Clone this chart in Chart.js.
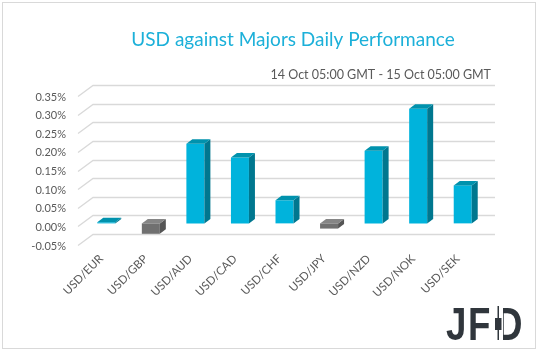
<!DOCTYPE html>
<html>
<head>
<meta charset="utf-8">
<script src="https://cdn.jsdelivr.net/npm/chart.js@4.4.0/dist/chart.umd.min.js"></script>
<style>
  body { margin: 0; background: #fff; }
  #wrap { width: 538px; height: 351px; }
</style>
</head>
<body>
<div id="wrap"><canvas id="perfChart" width="538" height="351"></canvas></div>
<script>
// data (percent)
const pairs = ['USD/EUR', 'USD/GBP', 'USD/AUD', 'USD/CAD', 'USD/CHF', 'USD/JPY', 'USD/NZD', 'USD/NOK', 'USD/SEK'];
const changes = [0.003, -0.028, 0.214, 0.177, 0.062, -0.014, 0.195, 0.308, 0.102];
const yTicks = [-0.05, 0, 0.05, 0.1, 0.15, 0.2, 0.25, 0.3, 0.35];

const titleText = 'USD against Majors Daily Performance';
const subText = '14 Oct 05:00 GMT - 15 Oct 05:00 GMT';

const upFront = '#00b3dc', upSide = '#00778f', upTop = '#0092ad';
const dnFront = '#707070', dnSide = '#555555', dnTop = '#858585';

const barColors = changes.map(v => (v >= 0 ? upFront : dnFront));

// back wall grid + 3d faces of the bars
const bar3d = {
  id: 'bar3d',
  beforeDatasetsDraw(chart) {
    const { ctx, chartArea: a, scales: { y } } = chart;
    ctx.save();
    ctx.strokeStyle = '#d9d9d9';
    ctx.lineWidth = 1.3;
    y.ticks.forEach(t => {
      const yb = Math.round(y.getPixelForValue(t.value) - 8) + 0.5;
      ctx.beginPath();
      ctx.moveTo(a.left - 6, yb + 11);
      ctx.lineTo(a.left + 9, yb);
      ctx.lineTo(a.right + 10, yb);
      ctx.stroke();
    });
    ctx.restore();
  },
  afterDatasetsDraw(chart) {
    const ctx = chart.ctx;
    const dx = 6, dy = 4.5;
    ctx.save();
    chart.getDatasetMeta(0).data.forEach((bar, i) => {
      const { x, y, base, width } = bar.getProps(['x', 'y', 'base', 'width'], true);
      const l = x - width / 2, r = x + width / 2;
      const top = Math.min(y, base), bot = Math.max(y, base);
      const neg = changes[i] < 0;
      // side
      ctx.fillStyle = neg ? dnSide : upSide;
      ctx.beginPath();
      ctx.moveTo(r, top);
      ctx.lineTo(r + dx, top - dy);
      ctx.lineTo(r + dx, bot - dy);
      ctx.lineTo(r, bot);
      ctx.closePath();
      ctx.fill();
      // top
      ctx.fillStyle = neg ? dnTop : upTop;
      ctx.beginPath();
      ctx.moveTo(l, top);
      ctx.lineTo(l + dx, top - dy);
      ctx.lineTo(r + dx, top - dy);
      ctx.lineTo(r, top);
      ctx.closePath();
      ctx.fill();
    });
    ctx.restore();
  }
};

// titles, logo and frame
const decor = {
  id: 'decor',
  afterDraw(chart) {
    const ctx = chart.ctx;
    ctx.save();
    ctx.fillStyle = '#1cb0d9';
    ctx.font = '19px Lato';
    ctx.textAlign = 'center';
    ctx.textBaseline = 'middle';
    ctx.fillText(titleText, 293, 40);

    ctx.fillStyle = '#595959';
    ctx.font = '12.5px Lato';
    ctx.textAlign = 'right';
    ctx.fillText(subText, 491, 75);

    // JFD logo
    ctx.fillStyle = '#30363c';
    ctx.textAlign = 'left';
    ctx.textBaseline = 'alphabetic';
    ctx.font = 'bold 47px "Liberation Sans"';
    const glyph = (ch, x) => {
      ctx.save();
      ctx.translate(x, 340);
      ctx.scale(0.78, 1);
      ctx.fillText(ch, 0, 0);
      ctx.restore();
    };
    glyph('J', 446);
    glyph('F', 468);
    glyph('D', 496);
    ctx.fillStyle = '#fff';
    ctx.fillRect(494, 300, 9, 42);
    ctx.fillStyle = '#30363c';
    ctx.fillRect(497.5, 306, 1.5, 34);
    ctx.fillRect(495, 318, 6.5, 12);

    ctx.strokeStyle = '#d9d9d9';
    ctx.lineWidth = 1;
    ctx.strokeRect(2.5, 2.5, 533, 346);
    ctx.restore();
  }
};

new Chart(document.getElementById('perfChart'), {
  type: 'bar',
  data: {
    labels: pairs,
    datasets: [
      {
        data: changes,
        backgroundColor: barColors,
        borderWidth: 0,
        barPercentage: 0.404,
        categoryPercentage: 1,
      },
    ],
  },
  options: {
    responsive: false,
    animation: false,
    layout: { padding: { top: 93, right: 53, left: 0, bottom: 0 } },
    plugins: {
      legend: { display: false },
      tooltip: { enabled: false },
    },
    scales: {
      x: {
        grid: { display: false, drawTicks: false },
        border: { display: false },
        ticks: {
          color: '#595959',
          font: { family: 'Lato', size: 11.5 },
          minRotation: 45,
          maxRotation: 45,
          padding: 10,
          labelOffset: -5,
        },
        afterFit: (s) => { s.height = 109; },
      },
      y: {
        min: -0.05,
        max: 0.35,
        grid: { display: false, drawTicks: false },
        border: { display: false },
        afterBuildTicks: (s) => { s.ticks = yTicks.map(v => ({ value: v })); },
        ticks: {
          color: '#595959',
          font: { family: 'Lato', size: 11 },
          padding: 18,
          labelOffset: 4,
          callback: (v) => v.toFixed(2) + '%',
        },
        afterFit: (s) => { s.width = 84; },
      },
    },
  },
  plugins: [bar3d, decor],
});
</script>
</body>
</html>
